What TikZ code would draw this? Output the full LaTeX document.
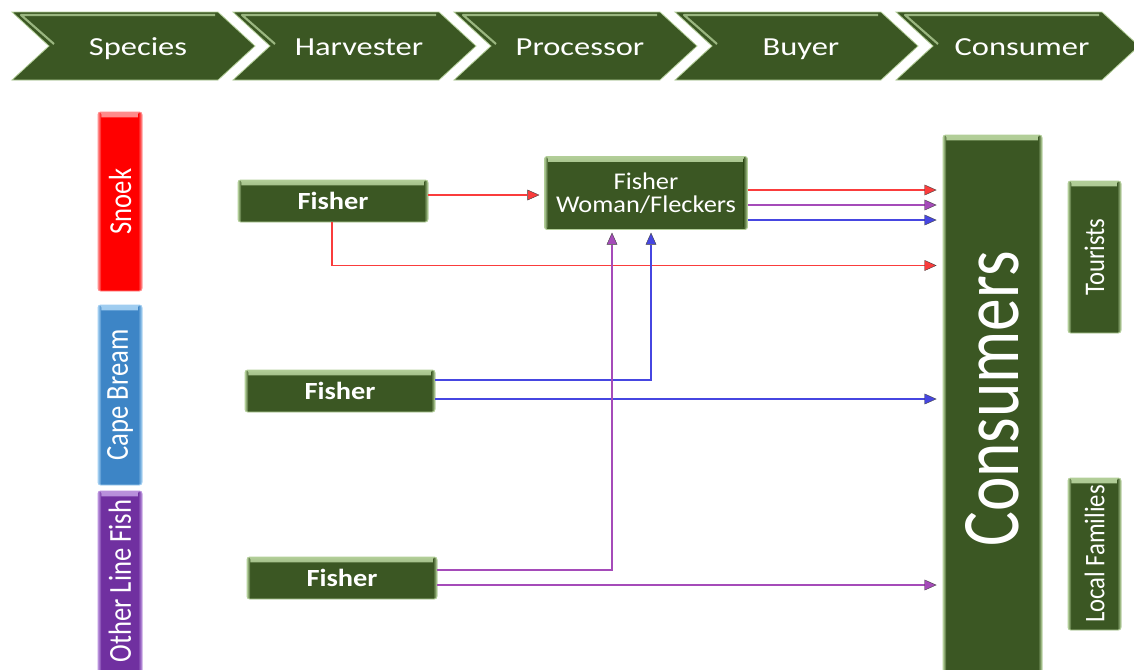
\documentclass[tikz,border=0pt]{standalone}
\usepackage{fontspec}
\setmainfont{Carlito}
\usetikzlibrary{arrows.meta,calc}

\definecolor{dkg}{RGB}{59,87,35}
\definecolor{ltg}{RGB}{178,206,152}
\definecolor{snoekred}{RGB}{255,0,0}
\definecolor{snoeklt}{RGB}{255,140,140}
\definecolor{breamblue}{RGB}{61,133,198}
\definecolor{breamlt}{RGB}{160,205,240}
\definecolor{lineviolet}{RGB}{112,48,160}
\definecolor{linelt}{RGB}{185,145,220}
\definecolor{flowred}{RGB}{250,60,60}
\definecolor{flowblue}{RGB}{70,70,225}
\definecolor{flowpurple}{RGB}{165,75,185}

% widened lettering for horizontal labels, thickened lettering for upright ones
\newcommand\widelbl[2][1.15]{\scalebox{#1}[1]{#2}}
\newcommand\thicklbl[2][1.2]{\scalebox{1}[#1]{#2}}

\tikzset{
  bevel/.style 2 args={fill=#1, draw=#2, line width=0.7pt, rounded corners=2pt,
    inner sep=0pt, text=white,
    path picture={
      \shade[top color=#2, bottom color=#1]
        (path picture bounding box.north west) rectangle
        ([yshift=-4pt]path picture bounding box.north east);
      \shade[left color=#1, right color=#2]
        ([xshift=-3pt]path picture bounding box.south east) rectangle
        (path picture bounding box.north east);
      \shade[left color=#2, right color=#1]
        (path picture bounding box.south west) rectangle
        ([xshift=2.5pt]path picture bounding box.north west);
    }},
  greenbox/.style={bevel={dkg}{ltg}},
  fisherbox/.style={greenbox, minimum width=142.5pt, minimum height=31.5pt,
    font=\fontsize{18.5}{20}\selectfont\bfseries},
  chevtext/.style={text=white, font=\fontsize{19.5}{22}\selectfont, inner sep=0pt,
    anchor=base},
  vtext/.style={text=white, rotate=90, inner sep=0pt},
  flow/.style={line width=1.3pt, draw=#1,
    -{Triangle[length=9pt, width=8pt, color=black!75, fill=#1, line width=0.3pt]}},
}

\begin{document}
\begin{tikzpicture}[x=0.75pt, y=-0.75pt]
\useasboundingbox (0,0) rectangle (1134,669);
\clip (0,0) rectangle (1134,669);

% value-chain chevrons across the top
\foreach \L/\t/\n in {12/Species/cspecies, 233/Harvester/charvester,
    454/Processor/cprocessor, 675/Buyer/cbuyer, 896/Consumer/cconsumer}{
  \fill[dkg] (\L,12) -- (\L+206,12) -- (\L+243,46) -- (\L+206,80)
    -- (\L,80) -- (\L+37,46) -- cycle;
  \draw[ltg, line width=0.6pt] (\L,12) -- (\L+206,12) -- (\L+243,46) -- (\L+206,80)
    -- (\L,80) -- (\L+37,46) -- cycle;
  \draw[ltg, line width=1.6pt, opacity=0.8, line join=round]
    (\L+42,44) -- (\L+9,15) -- (\L+203,15);
  \node[chevtext] (\n) at (\L+126,55) {\widelbl[1.25]{\t}};
}

% species bars
\node[bevel={snoekred}{snoeklt}, minimum width=33pt, minimum height=134.25pt]
  (snoek) at (120,201.5) {};
\node[vtext, font=\fontsize{20}{22}\selectfont] (snoektxt) at (snoek) {\thicklbl{Snoek}};
\node[bevel={breamblue}{breamlt}, minimum width=33pt, minimum height=135pt]
  (bream) at (120,395) {};
\node[vtext, font=\fontsize{20}{22}\selectfont] (breamtxt) at (bream) {\thicklbl{Cape Bream}};
\node[bevel={lineviolet}{linelt}, minimum width=33pt, minimum height=141pt]
  (other) at (120,585) {};
\node[vtext, font=\fontsize{20}{22}\selectfont] (othertxt) at (120,581) {\thicklbl{Other Line Fish}};

% harvesters and processors
\node[fisherbox] (f1) at (333,201) {\widelbl{Fisher}};
\node[fisherbox] (f2) at (340,391) {\widelbl{Fisher}};
\node[fisherbox] (f3) at (342,578) {\widelbl{Fisher}};
\node[greenbox, minimum width=152.25pt, minimum height=54.75pt, align=center,
  font=\fontsize{18}{17}\selectfont] (fw) at (646,193)
  {\widelbl[1.1]{Fisher}\\\widelbl[1.1]{Woman/Fleckers}};

% consumers
\node[greenbox, minimum width=74.25pt, minimum height=420pt] (cons) at (992.5,415) {};
\node[vtext, font=\fontsize{49}{52}\selectfont] (constxt) at (992.5,399) {\thicklbl[1.25]{Consumers}};
\node[greenbox, minimum width=39.75pt, minimum height=114pt] (tour) at (1094.5,257) {};
\node[vtext, font=\fontsize{18.5}{20}\selectfont] (tourtxt) at (tour) {\thicklbl[1.15]{Tourists}};
\node[greenbox, minimum width=39.75pt, minimum height=114pt] (local) at (1094.5,554) {};
\node[vtext, font=\fontsize{18.5}{20}\selectfont] (localtxt) at (local) {\thicklbl[1.15]{Local Families}};

% flow connectors
\coordinate (a1) at ($(f1.east)+(0,-6)$);
\coordinate (k1) at ($(f1.south)+(-1,43)$);
\coordinate (o1) at ($(fw.east)+(0,-3)$);
\coordinate (o2) at ($(fw.east)+(0,12)$);
\coordinate (o3) at ($(fw.east)+(0,27)$);
\coordinate (bx) at ($(fw.south)+(5,0)$);
\coordinate (vx) at ($(fw.south)+(-34,0)$);
\coordinate (b1) at ($(f2.east)+(0,-11)$);
\coordinate (b2) at ($(f2.east)+(0,8)$);
\coordinate (p1) at ($(f3.east)+(0,-8)$);
\coordinate (p2) at ($(f3.east)+(0,7)$);

\draw[flow=flowred, shorten >=3.5pt] (a1) -- (a1 -| fw.west);
\draw[flow=flowred, shorten >=4.5pt] (f1.south -| k1) -- (k1) -- (k1 -| cons.west);
\draw[flow=flowred, shorten >=4.5pt] (o1) -- (o1 -| cons.west);
\draw[flow=flowpurple, shorten >=4.5pt] (o2) -- (o2 -| cons.west);
\draw[flow=flowblue, shorten >=4.5pt] (o3) -- (o3 -| cons.west);
\draw[flow=flowblue, shorten >=2pt] (b1) -- (b1 -| bx) -- (bx);
\draw[flow=flowblue, shorten >=4.5pt] (b2) -- (b2 -| cons.west);
\draw[flow=flowpurple, shorten >=2pt] (p1) -- (p1 -| vx) -- (vx);
\draw[flow=flowpurple, shorten >=4.5pt] (p2) -- (p2 -| cons.west);
\end{tikzpicture}
\end{document}
